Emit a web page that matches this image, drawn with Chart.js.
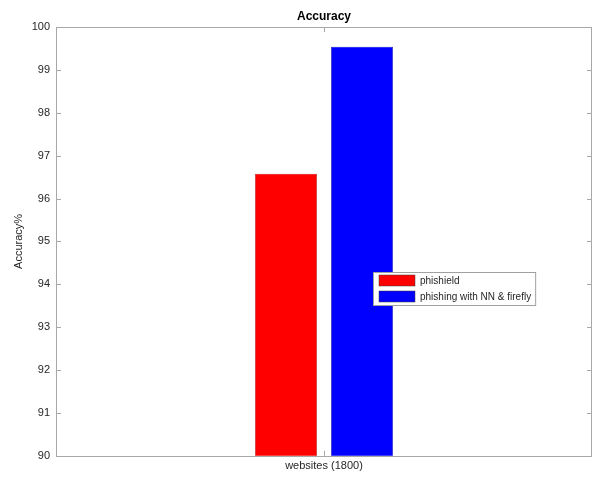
<!DOCTYPE html>
<html>
<head>
<meta charset="utf-8">
<script src="https://cdn.jsdelivr.net/npm/chart.js@4/dist/chart.umd.min.js"></script>
<style>
  html, body { margin: 0; padding: 0; background: #fff; }
  #wrap { width: 593px; height: 477px; }
</style>
</head>
<body>
<div id="wrap"><canvas id="AccuracyChart"></canvas></div>
<script>
var categories = ["websites (1800)"];
var seriesNames = ["phishield", "phishing with NN & firefly"];
var phishieldValues = [96.58];
var fireflyValues = [99.54];
var yTicks = [90, 91, 92, 93, 94, 95, 96, 97, 98, 99, 100];

var axisColor = "#a8a8a8";
var textColor = "#262626";
var fontFamily = "'Liberation Sans', Arial, Helvetica, sans-serif";

// draws the matlab style box, inward ticks, title and legend
var matlabBox = {
    id: "matlabBox",
    afterDraw: function (chart) {
        var ctx = chart.ctx;
        var area = chart.chartArea;
        var yScale = chart.scales.y;
        var xScale = chart.scales.x;
        ctx.save();
        ctx.strokeStyle = axisColor;
        ctx.lineWidth = 1;
        ctx.strokeRect(Math.round(area.left) + 0.5, Math.round(area.top) + 0.5,
                       Math.round(area.right - area.left) - 1, Math.round(area.bottom - area.top));

        ctx.beginPath();
        for (var i = 0; i < yTicks.length; ++i) {
            var py = Math.round(yScale.getPixelForValue(yTicks[i])) + 0.5;
            ctx.moveTo(area.left, py);
            ctx.lineTo(area.left + 5, py);
            ctx.moveTo(area.right, py);
            ctx.lineTo(area.right - 5, py);
        }
        var px = Math.round(xScale.getPixelForValue(0)) + 0.5;
        ctx.moveTo(px, area.bottom);
        ctx.lineTo(px, area.bottom - 5);
        ctx.moveTo(px, area.top);
        ctx.lineTo(px, area.top + 5);
        ctx.stroke();

        // title
        ctx.fillStyle = "#000";
        ctx.font = "bold 12px " + fontFamily;
        ctx.textAlign = "center";
        ctx.textBaseline = "middle";
        ctx.fillText("Accuracy", (area.left + area.right) / 2, 17);

        // legend
        ctx.font = "10px " + fontFamily;
        ctx.textAlign = "left";
        var sets = chart.data.datasets;
        var textW = 0;
        for (var j = 0; j < sets.length; ++j) {
            textW = Math.max(textW, ctx.measureText(sets[j].label).width);
        }
        var bx = 373, by = 272;
        var bw = 47 + textW + 4, bh = 33;
        ctx.fillStyle = "#fff";
        ctx.fillRect(bx, by, bw, bh);
        ctx.strokeStyle = "#a0a0a0";
        ctx.strokeRect(bx + 0.5, by + 0.5, bw, bh);
        for (var k = 0; k < sets.length; ++k) {
            var sy = by + 3 + k * 16;
            ctx.fillStyle = sets[k].backgroundColor;
            ctx.fillRect(bx + 6, sy, 36, 11);
            ctx.strokeStyle = "#404040";
            ctx.lineWidth = 0.5;
            ctx.strokeRect(bx + 6, sy, 36, 11);
            ctx.fillStyle = textColor;
            ctx.textBaseline = "middle";
            ctx.fillText(sets[k].label, bx + 47, sy + 6);
        }
        ctx.restore();
    }
};

document.addEventListener('DOMContentLoaded', function () {
    var canvas = document.getElementById("AccuracyChart");

    new Chart(canvas, {
        type: "bar",
        data: {
            labels: categories,
            datasets: [
                {
                    label: seriesNames[0],
                    data: phishieldValues,
                    backgroundColor: "#ff0000",
                    borderColor: "#5a2020",
                    borderWidth: 0.5,
                    categoryPercentage: 0.2836,
                    barPercentage: 0.816
                },
                {
                    label: seriesNames[1],
                    data: fireflyValues,
                    backgroundColor: "#0000ff",
                    borderColor: "#20205a",
                    borderWidth: 0.5,
                    categoryPercentage: 0.2836,
                    barPercentage: 0.816
                }
            ]
        },
        options: {
            responsive: true,
            maintainAspectRatio: false,
            animation: false,
            layout: {
                padding: { top: 27, right: 1, bottom: 0, left: 0 }
            },
            scales: {
                x: {
                    grid: { display: false, drawTicks: false },
                    border: { display: false },
                    ticks: {
                        color: textColor,
                        font: { family: fontFamily, size: 11 },
                        padding: 4
                    }
                },
                y: {
                    min: 90,
                    max: 100,
                    afterFit: function (scale) { scale.width = 56; },
                    afterBuildTicks: function (scale) {
                        scale.ticks = yTicks.map(function (v) { return { value: v }; });
                    },
                    grid: { display: false, drawTicks: false },
                    border: { display: false },
                    ticks: {
                        color: textColor,
                        font: { family: fontFamily, size: 11 },
                        padding: 6
                    },
                    title: {
                        display: true,
                        text: "Accuracy%",
                        color: textColor,
                        font: { family: fontFamily, size: 11 },
                        padding: { top: 12, bottom: 0 }
                    }
                }
            },
            plugins: {
                legend: { display: false },
                title: { display: false },
                tooltip: { enabled: false }
            }
        },
        plugins: [matlabBox]
    });
});
</script>
</body>
</html>
